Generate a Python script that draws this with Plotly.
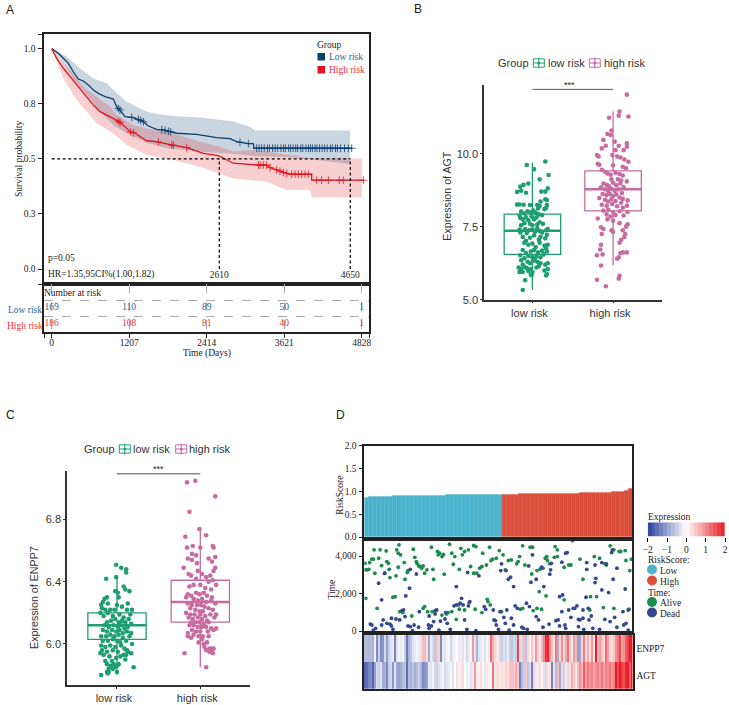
import plotly.graph_objects as go
import numpy as np

# ---------- Panel A data ----------
low_t = [0,104,182,260,337,415,493,571,649,727,831,960,1012,1064,1142,1246,1350,1428,1505,1635,1739,1843,1947,2258,2414,2570,2777,2881,3063,3140,3151,4672]
low_s = [1,.979,.956,.933,.895,.862,.853,.835,.812,.797,.782,.771,.736,.721,.691,.688,.679,.668,.649,.634,.631,.623,.616,.611,.603,.596,.592,.578,.569,.569,.548,.548]
high_t = [0,78,182,285,415,545,649,753,908,1038,1142,1220,1298,1479,1635,1843,2102,2258,2362,2595,2725,2828,3192,3347,3400,3503,3607,3711,4048,4048,4853]
high_s = [1,.956,.911,.873,.83,.782,.744,.714,.691,.671,.646,.623,.616,.582,.578,.564,.551,.536,.525,.514,.495,.48,.472,.472,.46,.45,.438,.43,.43,.403,.403]
low_up_t = [0,234,441,649,856,986,1168,1479,1635,1894,2310,2828,3088,3166,4645]
low_up_s = [1,.964,.911,.865,.843,.805,.759,.714,.703,.694,.687,.669,.646,.628,.628]
low_lo_t = [0,182,337,545,753,960,1168,1479,1790,2310,2828,3140,3711,4022,4645]
low_lo_s = [1,.933,.865,.79,.714,.654,.616,.573,.548,.533,.522,.513,.507,.498,.477]
high_up_t = [0,130,285,493,701,908,1012,1272,1479,1790,2310,2621,2828,3140,3711,4048,4828]
high_up_s = [1,.949,.903,.828,.782,.737,.699,.654,.638,.623,.578,.555,.533,.54,.517,.502,.501]
high_lo_t = [0,182,389,701,960,1168,1479,1894,2310,2828,3347,3659,4022,4048,4828]
high_lo_s = [1,.865,.767,.661,.616,.563,.517,.495,.464,.411,.396,.359,.359,.324,.324]
low_cens = [1038,1064,1246,1350,1386,1428,1713,1765,1817,1853,2932,3063,3192,3230,3270,3310,3360,3390,3440,3480,3520,3570,3610,3640,3690,3720,3760,3800,3830,3880,3910,3960,4000,4030,4060,4100,4130,4170,4210,4250,4290,4340,4370,4420,4450,4500,4560,4620,4672]
high_cens = [1038,1064,1230,1272,1661,1869,1895,2102,3218,3245,3295,3347,3400,3503,3555,3607,3659,3737,3790,3840,3893,3945,3997,4126,4204,4308,4479,4541,4853]
risk_ticks = [0,1207,2414,3621,4828]
risk_low = [169,110,89,50,1]
risk_high = [186,108,81,40,1]
median_times = [2610,4650]

# ---------- Panel B data ----------
groups = ['low risk','high risk']
b_box_low = dict(q1=6.55, med=7.36, q3=7.93, lo=5.33, hi=9.70)
b_box_high = dict(q1=8.04, med=8.78, q3=9.41, lo=6.19, hi=11.44)
b_low_pts = [(-.07,9.61),(.02,9.47),(.16,9.73),(.2,9.27),(.09,9.12),(-.05,8.98),(-.11,8.93),(-.15,8.87),(-.19,8.69),(-.14,8.73),(-.08,8.66),(.19,8.81),(.11,8.7),(.16,8.7),(.18,8.41),(.16,8.44),(.1,8.36),(.06,8.24),(-.19,8.26),(-.16,8.26),(-.11,8.25),(-.03,8.24),(.09,8.21),(.18,8.24),
(-.14,8.02),(-.1,7.95),(-.06,8.03),(-.02,7.98),(.01,8.05),(.04,7.98),(.08,7.92),(.12,7.9),(.15,8.1),(.17,8.15),(.07,8.12),(-.16,7.88),
(-.15,7.8),(-.12,7.75),(-.08,7.82),(-.05,7.72),(-.01,7.85),(.02,7.75),(.05,7.82),(.09,7.65),(.13,7.6),(-.14,7.55),(-.03,7.6),(.0,7.55),(.06,7.58),(-.1,7.62),
(-.16,7.4),(-.09,7.42),(-.04,7.38),(-.15,7.3),(-.07,7.28),(.0,7.4),(.03,7.32),(.06,7.45),(.09,7.35),(.12,7.3),(.17,7.38),(.19,7.42),(-.12,7.15),(-.03,7.12),(.02,7.2),(.1,7.15),(.16,7.1),(.08,7.05),(-.08,7.02),(.18,7.22),
(-.1,6.95),(-.05,6.88),(.0,6.92),(.04,6.8),(.09,6.95),(.15,6.85),(.19,6.88),(.17,6.75),(-.12,6.7),(-.02,6.65),(.02,6.7),(.07,6.62),(.12,6.68),(.18,6.65),(-.08,6.6),(.14,6.55),(-.15,6.52),(-.05,6.5),(.0,6.45),(.05,6.5),(.1,6.45),(-.1,6.42),(.03,6.4),
(-.14,6.35),(-.06,6.3),(.01,6.33),(.06,6.3),(.1,6.25),(.16,6.2),(.19,6.25),(-.12,6.2),(-.03,6.25),(-.17,6.1),(-.14,6.05),(-.1,6.12),(-.07,6.08),(-.12,5.95),(-.16,5.95),(-.05,5.98),(-.02,6.05),(.0,5.95),(.05,6.1),(.08,6.15),(.15,6.0),(.19,6.05),(.18,5.88),(.17,5.83),(-.02,5.85),(-.01,5.84),(-.09,5.67),(-.12,5.33)]
b_high_pts = [(.17,12.02),(.08,11.44),(.07,11.3),(-.05,11.23),(.19,11.27),(-.02,10.79),(-.07,10.67),(-.03,10.64),(-.12,10.47),(.02,10.41),(.17,10.35),(.17,10.24),(.07,10.27),(-.09,10.27),(-.14,10.18),(.03,10.12),(.13,10.12),(-.2,9.95),(-.18,9.9),(-.01,9.95),(.05,9.9),(.09,9.87),(.14,9.8),(.19,9.72),(-.14,9.45),(-.19,9.65),(-.17,9.62),(.0,9.6),(.12,9.55),(.16,9.5),(-.1,9.38),(-.07,9.32),(-.03,9.28),(.03,9.35),(.08,9.3),(.12,9.25),(.17,9.05),(-.02,9.12),(.06,9.12),(.1,9.08),(-.12,8.98),(-.08,8.93),(-.05,8.88),(.0,9.0),(.04,8.92),(.09,8.98),(.13,8.85),(-.15,8.85),(-.1,8.78),(-.06,8.72),(-.02,8.8),(.02,8.72),(.07,8.78),(.11,8.65),(-.13,8.62),(-.08,8.58),(-.04,8.62),(.0,8.55),(.04,8.6),(.08,8.5),(.12,8.45),(.18,8.4),(-.17,8.48),(-.1,8.42),(-.06,8.36),(-.02,8.45),(.03,8.38),(.1,8.32),(.17,8.22),(-.14,8.25),(-.08,8.22),(-.01,8.28),(.05,8.2),(.12,8.15),(-.12,8.05),(-.06,8.08),(.0,8.0),(.08,8.03),(.18,8.0),(-.08,7.92),(-.03,7.85),(.03,7.9),(.13,7.88),(-.19,7.78),(-.07,7.75),(.0,7.7),(.08,7.62),(.18,7.58),(.16,7.5),(-.15,7.48),(-.12,7.42),(-.02,7.38),(.12,7.38),(-.14,7.25),(.0,7.32),(.15,7.25),(.1,7.05),(.08,6.95),(.14,7.15),(-.15,6.88),(-.16,6.72),(-.13,6.55),(-.2,6.52),(.09,6.6),(.12,6.62),(.17,6.62),(.07,6.45),(.05,6.4),(-.15,6.17),(.08,5.82),(.07,5.72),(-.2,5.68),(-.09,5.46)]

# ---------- Panel C data ----------
c_box_low = dict(q1=6.03, med=6.12, q3=6.20, lo=5.80, hi=6.43)
c_box_high = dict(q1=6.14, med=6.27, q3=6.41, lo=5.85, hi=6.74)
c_low_pts = [(-.01,6.51),(.05,6.49),(.11,6.48),(.11,6.46),(-.01,6.43),(-.13,6.42),(.08,6.37),(.1,6.35),(.15,6.34),(-.02,6.34),(.01,6.33),(-.12,6.3),(-.15,6.29),(-.17,6.27),(-.11,6.26),(.02,6.3),(-.19,6.25),(-.18,6.23),(-.14,6.22),(-.08,6.22),(-.03,6.22),(.0,6.25),(.06,6.24),(.13,6.26),(.12,6.22),(.18,6.22),(.16,6.19),(-.2,6.2),(-.16,6.18),(-.11,6.2),(-.05,6.18),(.03,6.19),(.08,6.17),(.14,6.16),(-.12,6.14),(-.07,6.15),(-.02,6.16),(.02,6.14),(.06,6.15),(.1,6.14),(.17,6.13),(-.15,6.12),(-.1,6.11),(-.04,6.12),(.01,6.11),(.05,6.12),(.09,6.1),(.13,6.11),(-.17,6.09),(-.12,6.08),(-.06,6.09),(-.01,6.08),(.03,6.09),(.07,6.07),(.12,6.08),(.17,6.07),(-.19,6.05),(-.13,6.05),(-.08,6.06),(-.03,6.05),(.02,6.06),(.07,6.04),(.15,6.05),(-.17,6.02),(-.11,6.02),(-.05,6.03),(.0,6.02),(.04,6.01),(.11,6.02),(.18,6.0),(-.19,5.99),(-.14,5.98),(-.08,5.99),(-.02,5.98),(.05,5.99),(.09,5.97),(-.18,5.96),(-.12,5.95),(-.05,5.96),(.01,5.95),(.13,5.95),(.17,5.94),(.12,5.96),(-.2,5.94),(.08,5.93),(.11,5.93),(-.16,5.93),(-.09,5.92),(-.01,5.91),(.04,5.92),(.1,5.9),(-.14,5.89),(-.06,5.89),(.02,5.87),(-.12,5.87),(-.08,5.86),(-.04,5.87),(.0,5.86),(-.1,5.84),(-.05,5.84),(-.03,5.85),(.2,5.85),(-.12,5.82),(.0,5.82),(-.1,5.82),(-.19,5.8),(-.11,5.81)]
c_high_pts = [(-.16,7.04),(-.06,7.05),(.18,6.95),(-.13,6.85),(-.01,6.74),(.07,6.7),(-.18,6.69),(-.16,6.62),(-.09,6.63),(.0,6.62),(.15,6.63),(.16,6.62),(-.1,6.58),(-.05,6.57),(-.15,6.55),(-.1,6.54),(-.04,6.52),(.1,6.55),(.18,6.56),(.14,6.53),(-.2,6.49),(.18,6.49),(.16,6.47),(-.03,6.47),(-.14,6.45),(-.11,6.44),(.12,6.44),(.07,6.43),(-.05,6.42),(.02,6.45),(.15,6.41),(.19,6.38),(.1,6.4),(-.13,6.37),(-.08,6.38),(.0,6.38),(.06,6.36),(.13,6.35),(-.15,6.32),(-.11,6.31),(-.05,6.33),(-.01,6.32),(.04,6.33),(.08,6.31),(.14,6.3),(-.17,6.3),(-.08,6.29),(-.03,6.28),(.02,6.29),(.07,6.27),(.13,6.28),(.18,6.26),(-.15,6.26),(-.1,6.25),(-.04,6.25),(.01,6.25),(.05,6.24),(.1,6.23),(-.12,6.23),(-.06,6.22),(-.01,6.21),(.03,6.21),(.15,6.22),(-.17,6.2),(-.12,6.19),(-.07,6.19),(.0,6.19),(.06,6.18),(.12,6.19),(.19,6.19),(.17,6.17),(-.14,6.17),(-.09,6.16),(-.03,6.17),(.02,6.16),(.08,6.15),(-.11,6.14),(-.06,6.14),(-.01,6.14),(.04,6.13),(.1,6.14),(-.13,6.12),(-.08,6.12),(-.03,6.11),(.02,6.11),(.07,6.11),(.13,6.1),(.19,6.1),(.16,6.09),(-.1,6.09),(-.05,6.08),(.0,6.08),(.09,6.08),(-.15,6.07),(-.08,6.06),(-.02,6.05),(.03,6.05),(.1,6.05),(-.15,6.05),(-.11,6.04),(.02,6.03),(-.02,6.01),(.04,6.0),(.08,6.01),(.05,5.98),(.11,5.97),(.14,5.97),(.13,5.95),(.11,5.95),(.16,5.97),(.07,5.96),(.15,5.94),(-.19,5.94),(.07,5.85)]

# ---------- Panel D data ----------
risk_low_vals = [.86,.875,.88,.885,.887,.89,.892,.895,.897,.9,.902,.903,.905,.906,.908,.91,.911,.912,.914,.915,.916,.917,.918,.919,.92,.921,.922,.923,.924,.925,.926,.927,.928,.929]
risk_high_vals = [.93,.932,.934,.936,.938,.94,.942,.943,.945,.946,.948,.95,.951,.952,.954,.955,.956,.958,.959,.96,.962,.964,.966,.968,.97,.973,.977,.982,.99,1.0,1.02,1.06]
alive_rank = [1,2,4,6,7,10,12,14,13,19,21,23,27,29,30,32,33,34,42,43,45,45,48,46,53,54,57,58,65,67,69,70,72,74,76,78,80,83,89,91,92,97,98,100,103,105,106,113,116,118,120,126,128,130,133,138,141,145,148,145,149,153,156,157,162,166,168,170,175,179,184,187,191,195,202,206,204,210,213,220,223,222,229,233,237,240,242,243,246,252,253,256,256,265,271,274,276,286,290,305,312,319,321,326,331,338,340,346,347,352,354,
2,17,38,41,47,51,63,78,80,84,90,103,109,111,116,122,125,126,133,139,147,156,163,164,167,182,207,210,224,229,235,232,241,265,299,300,308,317,331,351]
alive_time = [3610,3260,3260,3290,3650,3830,3830,3080,4330,3880,4330,3490,3080,4270,3700,3610,3290,2850,2940,4330,4150,3400,4060,4590,3650,2760,3120,3220,4360,3930,3700,3610,3470,3440,3350,3470,3080,3260,4470,3290,2760,4240,4060,4150,3970,4090,3030,4630,4150,3560,3970,3290,4410,4060,4240,4330,3440,4560,4500,3080,3080,3350,3440,4150,3520,4470,3760,3830,3880,4290,4060,3260,3760,3790,3580,3970,3700,4540,3520,4470,4470,3040,3220,3290,3350,3880,3970,3760,3580,3930,4500,4330,3970,3400,3520,3520,4820,3830,2760,3970,3880,3580,3520,4540,4330,4240,4240,4290,3760,3220,3830,
1740,1210,1800,1830,1030,980,800,1210,1300,1030,1030,850,910,980,1030,620,1390,1160,1120,1510,1160,980,1690,1570,1390,1030,1160,1210,1090,1210,1160,2100,1870,1660,1120,1830,1830,1250,1210,1160]
dead_rank = [19,27,61,69,137,152,122,182,181,188,191,194,198,218,221,223,228,235,238,246,247,248,262,267,269,295,295,306,307,306,315,321,329,328,330,335,315,324,346,55,60,23,
8,10,12,15,23,25,30,34,36,38,36,42,47,50,52,54,58,61,64,66,72,73,85,86,86,89,92,94,96,94,99,101,107,108,110,114,119,122,127,129,131,133,136,138,140,148,159,161,171,172,174,175,178,180,185,187,189,192,195,198,200,203,209,211,215,216,219,228,231,237,245,254,257,259,263,259,262,266,267,271,274,277,279,282,284,284,286,290,290,291,294,297,298,301,303,312,319,326,332,335,343,344,347,350,350]
dead_time = [2550,3080,3290,3040,3120,2940,2370,3580,3220,3220,2760,2870,2370,3470,2600,4060,2760,3400,2370,3030,3260,3610,3670,4150,4180,3650,3290,2580,2810,3520,3650,3580,4330,4180,2760,3350,2190,2050,2240,1870,2280,1660,
370,320,50,140,320,590,410,370,270,90,680,640,590,1090,1120,770,270,230,20,320,200,1030,320,140,800,270,500,1090,1120,910,50,530,640,980,410,90,1340,1390,1480,1740,1390,590,90,1340,1570,20,1300,1160,1120,590,550,320,90,1030,730,410,1120,50,680,320,1340,1210,200,140,1480,90,1300,770,590,200,370,550,590,1830,1920,270,1030,320,140,1120,730,1210,1210,1340,620,230,590,1120,680,90,1800,1210,590,800,140,90,620,500,730,200,1030,320,410,1120,50]
enpp7_vals = [-.7,-.7,-.75,-.7,-.8,-.1,-1.2,-.5,-1.2,-1.1,
-.4,-1.0,-.5,-.3,-.2,-1.3,-.3,-.1,-.2,-.1,
-.5,-1.4,-.8,-.6,-.3,-.2,-.1,-.2,-.3,.6,
.6,.3,-.9,-.2,-.4,-.6,.5,.4,-1.2,-.2,
-.3,-.1,.1,-.4,-.2,-.1,0,-.2,.2,-.3,
-.1,-.4,-.2,.1,.9,-.3,-.8,-.3,-.2,-.1,
-.3,.1,-.2,1.3,.7,.4,.2,
-.4,-.5,-.3,-.4,-.2,-.5,-.6,-.4,-.5,1.6,
.3,-.4,.6,-.6,.4,.1,.5,.2,.9,.4,
-.2,.6,1.1,1.8,1.9,1.0,.5,.2,1.2,-.8,
.4,1.0,.3,.8,1.2,.5,-.2,.9,.6,-1.0,
-.9,.4,1.1,.3,.7,.3,.9,.2,2.0,.5,
.9,.5,.3,1.3,.8,.4,.3,.5,1.0,1.2,
1.6,.8,1.0,1.4,1.7,2.0,2.0]
agt_vals = [-1.6,-1.5,-1.3,-1.2,-1.6,-1.0,-.4,-.5,-.3,-.9,
-.8,-1.2,-.5,-.4,-1.1,-.3,-.9,-1.0,-.9,-.7,
-.6,-1.5,-.7,-.8,-.6,-.8,-.7,-.5,-.8,-1.2,
-1.1,-1.0,-.2,-.3,-.1,-.4,-.5,-.3,-.2,-.1,
-.4,-.3,-.2,-.1,-.3,0,.3,-.1,.2,.3,
0,-.2,-.1,-.3,-.2,.9,.2,-.1,.3,.1,
-.2,.2,-.1,.1,1.2,-.2,.3,
.2,.3,.2,.4,.3,.5,.6,.4,.7,.5,
-1.3,-.7,-.5,.5,-.6,-.4,-1.3,.4,.2,-.2,
.3,.1,-.3,.4,-.2,.2,-1.3,.3,-.7,.6,
-.9,.4,-.5,-.2,.4,.3,.7,.5,-.2,.6,
1.0,.6,1.4,.8,1.2,.9,1.1,.8,1.0,1.1,
.9,1.2,.8,1.1,1.0,1.2,.9,1.1,2.0,1.6,
2.0,1.7,1.5,1.9,2.0,1.4,2.0]
heat_genes = ['AGT','ENPP7']
expr_ticks = [-2,-1,0,1,2]
expr_levels = [-1.9,-1.7,-1.5,-1.3,-1.1,-.9,-.7,-.5,-.3,-.1,.1,.3,.5,.7,.9,1.1,1.3,1.5,1.7,1.9]

# ---------- Style ----------
W, H = 729, 705
SERIF = 'Liberation Serif'
SANS = 'Liberation Sans'
INK = '#222222'
NAVY, RED = '#0d3f70', '#e0141f'
GREEN, PINK = '#1f9e72', '#c76ba0'
CYAN, ORANGE = '#4bb3cd', '#dd4e3a'
ALIVE, DEAD = '#1d8a4e', '#34478f'
HEAT = [[0, '#2a409c'], [.5, '#ffffff'], [1, '#e81c24']]


def px(x):
    return x / W


def py(y):
    return 1 - y / H


def dom_x(a, b):
    return [px(a), px(b)]


def dom_y(top, bottom):
    return [py(bottom), py(top)]


fig = go.Figure()
annos, shapes = [], []


def T(x, y, text, size=9.5, color=INK, anchor='left', family=SERIF, angle=0):
    annos.append(dict(x=px(x), y=py(y), xref='paper', yref='paper', text=text, showarrow=False,
                      xanchor='center' if angle else anchor, yanchor='middle', textangle=angle,
                      borderpad=0, borderwidth=0,
                      font=dict(family=family, size=size, color=color)))


def S(kind, x0, y0, x1, y1, line=None, lw=1, fill=None):
    shapes.append(dict(type=kind, xref='paper', yref='paper', x0=px(x0), x1=px(x1), y0=py(y0), y1=py(y1),
                       line=dict(color=line or 'rgba(0,0,0,0)', width=lw), fillcolor=fill, layer='above'))


# ---------- Panel A ----------
def band(up_t, up_s, lo_t, lo_s, fill):
    fig.add_trace(go.Scatter(x=up_t + lo_t[::-1], y=up_s + lo_s[::-1], fill='toself', mode='none',
                             fillcolor=fill, hoverinfo='skip', showlegend=False, xaxis='x', yaxis='y'))


band(low_up_t, low_up_s, low_lo_t, low_lo_s, 'rgba(13,63,112,0.22)')
band(high_up_t, high_up_s, high_lo_t, high_lo_s, 'rgba(224,20,31,0.2)')
for ts, ss, cens, col in [(low_t, low_s, low_cens, NAVY), (high_t, high_s, high_cens, RED)]:
    fig.add_trace(go.Scatter(x=ts, y=ss, mode='lines', line=dict(color=col, width=1.3),
                             showlegend=False, xaxis='x', yaxis='y'))
    fig.add_trace(go.Scatter(x=cens, y=list(np.interp(cens, ts, ss)), mode='markers',
                             marker=dict(symbol='cross-thin', size=5.5, line=dict(color=col, width=.8)),
                             showlegend=False, xaxis='x', yaxis='y'))
dash = dict(color='black', width=1.2, dash='3px,2.5px')
fig.add_trace(go.Scatter(x=[0, median_times[1]], y=[.5, .5], mode='lines', line=dash, showlegend=False, xaxis='x', yaxis='y'))
for t in median_times:
    fig.add_trace(go.Scatter(x=[t, t], y=[0, .5], mode='lines', line=dash, showlegend=False, xaxis='x', yaxis='y'))
fig.add_trace(go.Scatter(x=median_times, y=[-.03, -.03], mode='text', text=[str(t) for t in median_times],
                         textfont=dict(family=SERIF, size=9.5, color=INK), showlegend=False, xaxis='x', yaxis='y'))
for vals, y, col in [(risk_low, 1.5, '#2a6496'), (risk_high, .5, '#e8303a')]:
    fig.add_trace(go.Scatter(x=risk_ticks, y=[y] * 5, mode='text', text=[str(v) for v in vals],
                             textfont=dict(family=SERIF, size=9.5, color=col), showlegend=False,
                             cliponaxis=False, xaxis='x2', yaxis='y2'))
T(317, 45, 'Group')
S('rect', 317.5, 53, 325, 60.5, fill=NAVY)
T(329, 57.5, 'Low risk', color='#2a6496')
S('rect', 317.5, 66, 325, 73.5, fill=RED)
T(329, 70.5, 'High risk', color='#e8303a')
T(48, 258, 'p=0.05')
T(48, 274, 'HR=1.35,95CI%(1.00,1.82)')
T(19, 159, 'Survival probability', angle=-90)
T(44.3, 293, 'Number at risk')
T(42, 310, 'Low risk', color='#2a6496', anchor='right')
T(42.5, 326, 'High risk', color='#e8303a', anchor='right')
T(206.7, 353.5, 'Time (Days)', anchor='center')
T(6, 10, 'A', size=12, family=SANS)
T(414, 9, 'B', size=12, family=SANS)
T(6, 415, 'C', size=12, family=SANS)
T(336, 415, 'D', size=12, family=SANS)


# ---------- Panels B / C ----------
def boxes(ax, ay, stats, pts, col, xpos):
    fig.add_trace(go.Box(x=[xpos], q1=[stats['q1']], median=[stats['med']], q3=[stats['q3']],
                         lowerfence=[stats['lo']], upperfence=[stats['hi']], width=0.7, whiskerwidth=0,
                         line=dict(color=col, width=1.3), fillcolor='rgba(0,0,0,0)', boxpoints=False,
                         showlegend=False, xaxis=ax, yaxis=ay))
    fig.add_trace(go.Scatter(x=[xpos - .35, xpos + .35], y=[stats['med']] * 2, mode='lines',
                             line=dict(color=col, width=2.4), showlegend=False, xaxis=ax, yaxis=ay))
    fig.add_trace(go.Scatter(x=[xpos + p[0] for p in pts], y=[p[1] for p in pts], mode='markers',
                             marker=dict(color=col, size=4.6), showlegend=False, xaxis=ax, yaxis=ay))


boxes('x3', 'y3', b_box_low, b_low_pts, GREEN, 0)
boxes('x3', 'y3', b_box_high, b_high_pts, PINK, 1)
boxes('x4', 'y4', c_box_low, c_low_pts, GREEN, 0)
boxes('x4', 'y4', c_box_high, c_high_pts, PINK, 1)
fig.add_trace(go.Scatter(x=[0, 1], y=[12.2, 12.2], mode='lines', line=dict(color='#555555', width=1),
                         showlegend=False, cliponaxis=False, xaxis='x3', yaxis='y3'))
fig.add_trace(go.Scatter(x=[0, 1], y=[7.095, 7.095], mode='lines', line=dict(color='#888888', width=1.6),
                         showlegend=False, cliponaxis=False, xaxis='x4', yaxis='y4'))
T(569, 84.5, '***', size=9, anchor='center', family=SANS)
T(158.7, 469, '***', size=9, anchor='center', family=SANS)


def key(x0, cy, col):
    S('rect', x0, cy - 4.2, x0 + 11, cy + 4.2, line=col, lw=1)
    S('line', x0, cy, x0 + 11, cy, line=col, lw=1)
    S('line', x0 + 5.5, cy - 5.5, x0 + 5.5, cy + 5.5, line=col, lw=1)
    S('circle', x0 + 4, cy - 1.5, x0 + 7, cy + 1.5, fill=col)


for gx, k1, l1, k2, l2, cy in [(498, 533.3, 547.7, 589.3, 604, 63), (84, 119.3, 132.7, 175.7, 189, 449)]:
    T(gx, cy, 'Group', size=11, family=SANS, color='#333333')
    key(k1, cy, GREEN)
    T(l1, cy, groups[0], size=11, family=SANS, color='#333333')
    key(k2, cy, PINK)
    T(l2, cy, groups[1], size=11, family=SANS, color='#333333')
T(446.7, 196, 'Expression of AGT', size=10.7, family=SANS, angle=-90, color='#333333')
T(34, 598, 'Expression of ENPP7', size=10.7, family=SANS, angle=-90, color='#333333')

# ---------- Panel D ----------
n_low, n_high = len(risk_low_vals), len(risk_high_vals)
fig.add_trace(go.Bar(x=list(range(1, n_low + 1)), y=risk_low_vals, width=1, marker=dict(color=CYAN, line=dict(color=CYAN, width=.3)),
                     showlegend=False, xaxis='x5', yaxis='y5'))
fig.add_trace(go.Bar(x=list(range(n_low + 1, n_low + n_high + 1)), y=risk_high_vals, width=1, marker=dict(color=ORANGE, line=dict(color=ORANGE, width=.3)),
                     showlegend=False, xaxis='x5', yaxis='y5'))
fig.add_trace(go.Scatter(x=alive_rank, y=alive_time, mode='markers', marker=dict(color=ALIVE, size=3.8),
                         showlegend=False, xaxis='x6', yaxis='y6'))
fig.add_trace(go.Scatter(x=dead_rank, y=dead_time, mode='markers', marker=dict(color=DEAD, size=3.8),
                         showlegend=False, xaxis='x6', yaxis='y6'))
fig.add_trace(go.Heatmap(z=[agt_vals, enpp7_vals], y=heat_genes, x=list(range(len(agt_vals))), zmin=-2, zmax=2,
                         colorscale=HEAT, showscale=False, xaxis='x7', yaxis='y7'))
fig.add_trace(go.Heatmap(z=[expr_levels], x=expr_levels, y=['Expression'], zmin=-2, zmax=2,
                         colorscale=HEAT, showscale=False, xaxis='x8', yaxis='y8'))
T(340, 495.7, 'RiskScore', angle=-90)
T(331.5, 590, 'Time', angle=-90)
T(648, 517, 'Expression')
T(648, 560, 'RiskScore:')
S('circle', 647, 564.5, 657, 574.5, fill=CYAN)
T(660, 570.5, 'Low')
S('circle', 647, 575.5, 657, 585.5, fill=ORANGE)
T(660, 581.5, 'High')
T(648, 592.7, 'Time:')
S('circle', 647, 597, 657, 607, fill=ALIVE)
T(660, 603, 'Alive')
S('circle', 647, 607.5, 657, 617.5, fill=DEAD)
T(660, 613.5, 'Dead')

# ---------- Layout ----------
frame = dict(showline=True, linecolor=INK, linewidth=1.6, mirror=True, zeroline=False, showgrid=False, automargin=False)
heat_frame = dict(frame, linewidth=2)
tfont = dict(family=SERIF, size=9.5, color=INK)
sfont = dict(family=SANS, size=11, color='#333333')
bc = dict(showline=True, linecolor='#333333', linewidth=1.5, zeroline=False, showgrid=False, ticks='outside',
          ticklen=2, tickcolor='#333333', tickfont=sfont, automargin=False)

layout = dict(
    template='none',
    width=W, height=H, autosize=False, margin=dict(l=0, r=0, t=0, b=0, pad=0),
    paper_bgcolor='white', plot_bgcolor='white', showlegend=False, barmode='overlay', bargap=0,
    annotations=annos, shapes=shapes,
    # A main
    xaxis=dict(frame, domain=dom_x(44.3, 369.3), range=[-115, 4946], tickvals=[], anchor='y'),
    yaxis=dict(frame, domain=dom_y(34.3, 284), range=[-.068, 1.065], tickvals=[-.068, 0, .25, .5, .75, 1, 1.065],
               ticktext=['', '0.0', '0.3', '0.5', '0.8', '1.0', ''], ticks='outside', ticklen=5, tickcolor=INK, tickfont=tfont, anchor='x'),
    # A table
    xaxis2=dict(frame, domain=dom_x(44.3, 369.3), range=[-115, 4946], tickvals=[-115] + risk_ticks + [4946],
                ticktext=[''] + [str(t) for t in risk_ticks] + [''], ticks='outside', ticklen=4, tickcolor=INK,
                ticklabelstandoff=-3, tickfont=tfont, showgrid=True, gridcolor='#aaaaaa', griddash='dash', gridwidth=.7, anchor='y2'),
    yaxis2=dict(frame, domain=dom_y(284, 332), range=[0, 3], tickvals=[1, 2], ticktext=['', ''], ticks='',
                showgrid=True, gridcolor='#aaaaaa', griddash='dash', gridwidth=.7, anchor='x2'),
    # B
    xaxis3=dict(bc, domain=dom_x(484, 661.5), range=[-.6, 1.6], tickvals=[0, 1], ticktext=groups, ticklabelshift=-3, anchor='y3'),
    yaxis3=dict(bc, domain=dom_y(85, 299.7), range=[5, 12.35], tickvals=[5, 7.5, 10], ticktext=['5.0', '7.5', '10.0'], anchor='x3'),
    # C
    xaxis4=dict(bc, domain=dom_x(67, 250.3), range=[-.6, 1.6], tickvals=[0, 1], ticktext=groups, ticklabelshift=-3, anchor='y4'),
    yaxis4=dict(bc, domain=dom_y(471, 685.3), range=[5.734, 7.113], tickvals=[6.0, 6.4, 6.8], ticktext=['6.0', '6.4', '6.8'], anchor='x4'),
    # D top
    xaxis5=dict(frame, domain=dom_x(364.3, 632), range=[.5, n_low + n_high + .5], tickvals=[], anchor='y5'),
    yaxis5=dict(frame, domain=dom_y(445.7, 537), range=[0, 2], tickvals=[0, .5, 1, 1.5, 2], ticktext=['0.0', '0.5', '1.0', '1.5', '2.0'],
                ticks='outside', ticklen=4, tickcolor=INK, tickfont=tfont, anchor='x5'),
    # D mid
    xaxis6=dict(frame, domain=dom_x(364.3, 632), range=[0, 355], tickvals=[], anchor='y6'),
    yaxis6=dict(frame, domain=dom_y(541, 631), range=[0, 4800], tickvals=[0, 2000, 4000], ticktext=['0', '2,000', '4,000'],
                ticks='outside', ticklen=4, tickcolor=INK, tickfont=tfont, anchor='x6'),
    # D heat
    xaxis7=dict(heat_frame, domain=dom_x(364, 632.5), tickvals=[], anchor='y7'),
    yaxis7=dict(heat_frame, domain=dom_y(634.7, 689), side='right', tickfont=tfont, ticks='', anchor='x7'),
    # D expression scale
    xaxis8=dict(domain=dom_x(647.7, 725), range=[-2, 2], tickvals=expr_ticks,
                ticktext=['\u22122', '\u22121', '0', '1', '2'], ticks='outside', ticklen=4, tickcolor='black',
                tickfont=tfont, showgrid=False, zeroline=False, showline=False, automargin=False, anchor='y8'),
    yaxis8=dict(domain=dom_y(522.3, 536.7), showticklabels=False, ticks='', showgrid=False, zeroline=False, automargin=False, anchor='x8'),
)
fig.update_layout(**layout)
fig.write_html('out.html', config={'displayModeBar': False},
               post_script="document.body.style.margin='0';document.documentElement.style.overflow='hidden';")
